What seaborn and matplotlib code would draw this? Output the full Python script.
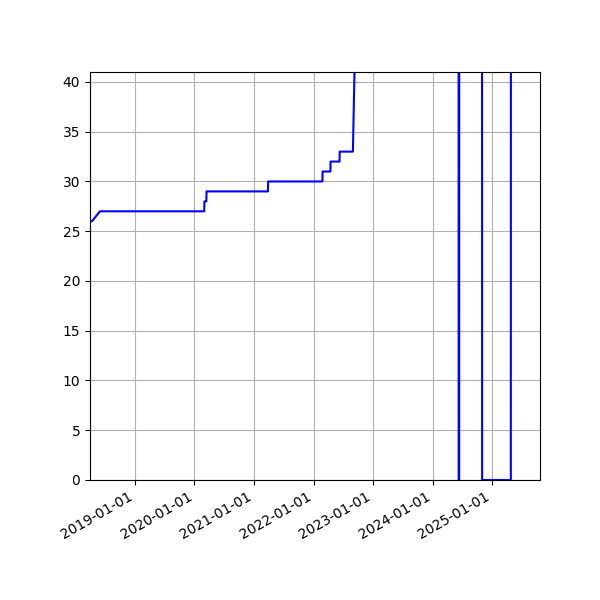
import numpy as np
import pandas as pd
import seaborn as sns
import matplotlib
matplotlib.use("Agg")
import matplotlib.pyplot as plt
import matplotlib.dates as mdates

# values (off-chart values are guesses, only the edge shows)
dates = ["2018-03-01", "2018-04-12", "2018-05-31", "2020-03-01", "2020-03-02",
         "2020-03-14", "2020-03-15", "2021-03-27", "2021-03-28", "2022-02-24",
         "2022-02-25", "2022-04-14", "2022-04-15", "2022-06-09", "2022-06-10",
         "2022-08-30", "2022-11-20", "2024-06-08", "2024-06-09", "2024-06-12",
         "2024-06-13", "2024-10-30", "2024-10-31", "2025-04-25", "2025-04-26",
         "2025-05-10"]
values = [26, 26, 27, 27, 28,
          28, 29, 29, 30, 30,
          31, 31, 32, 32, 33,
          33, 100, 100, 0, 0,
          100, 100, 0, 0, 100,
          100]

df = pd.DataFrame({"date": pd.to_datetime(dates), "value": values})

fig, ax = plt.subplots(figsize=(6, 6), dpi=100)
sns.lineplot(data=df, x="date", y="value", ax=ax, color="blue", linewidth=1.5, estimator=None)

ax.set_xlim(pd.Timestamp("2018-03-31"), pd.Timestamp("2025-10-21"))
ax.set_ylim(0, 41)
ax.xaxis.set_major_locator(mdates.YearLocator())
ax.xaxis.set_major_formatter(mdates.DateFormatter("%Y-%m-%d"))
ax.set_xlabel("")
ax.set_ylabel("")
ax.grid(True)
fig.autofmt_xdate()
plt.subplots_adjust(left=0.15, right=0.9, top=0.88, bottom=0.2)

plt.savefig("out.png")
